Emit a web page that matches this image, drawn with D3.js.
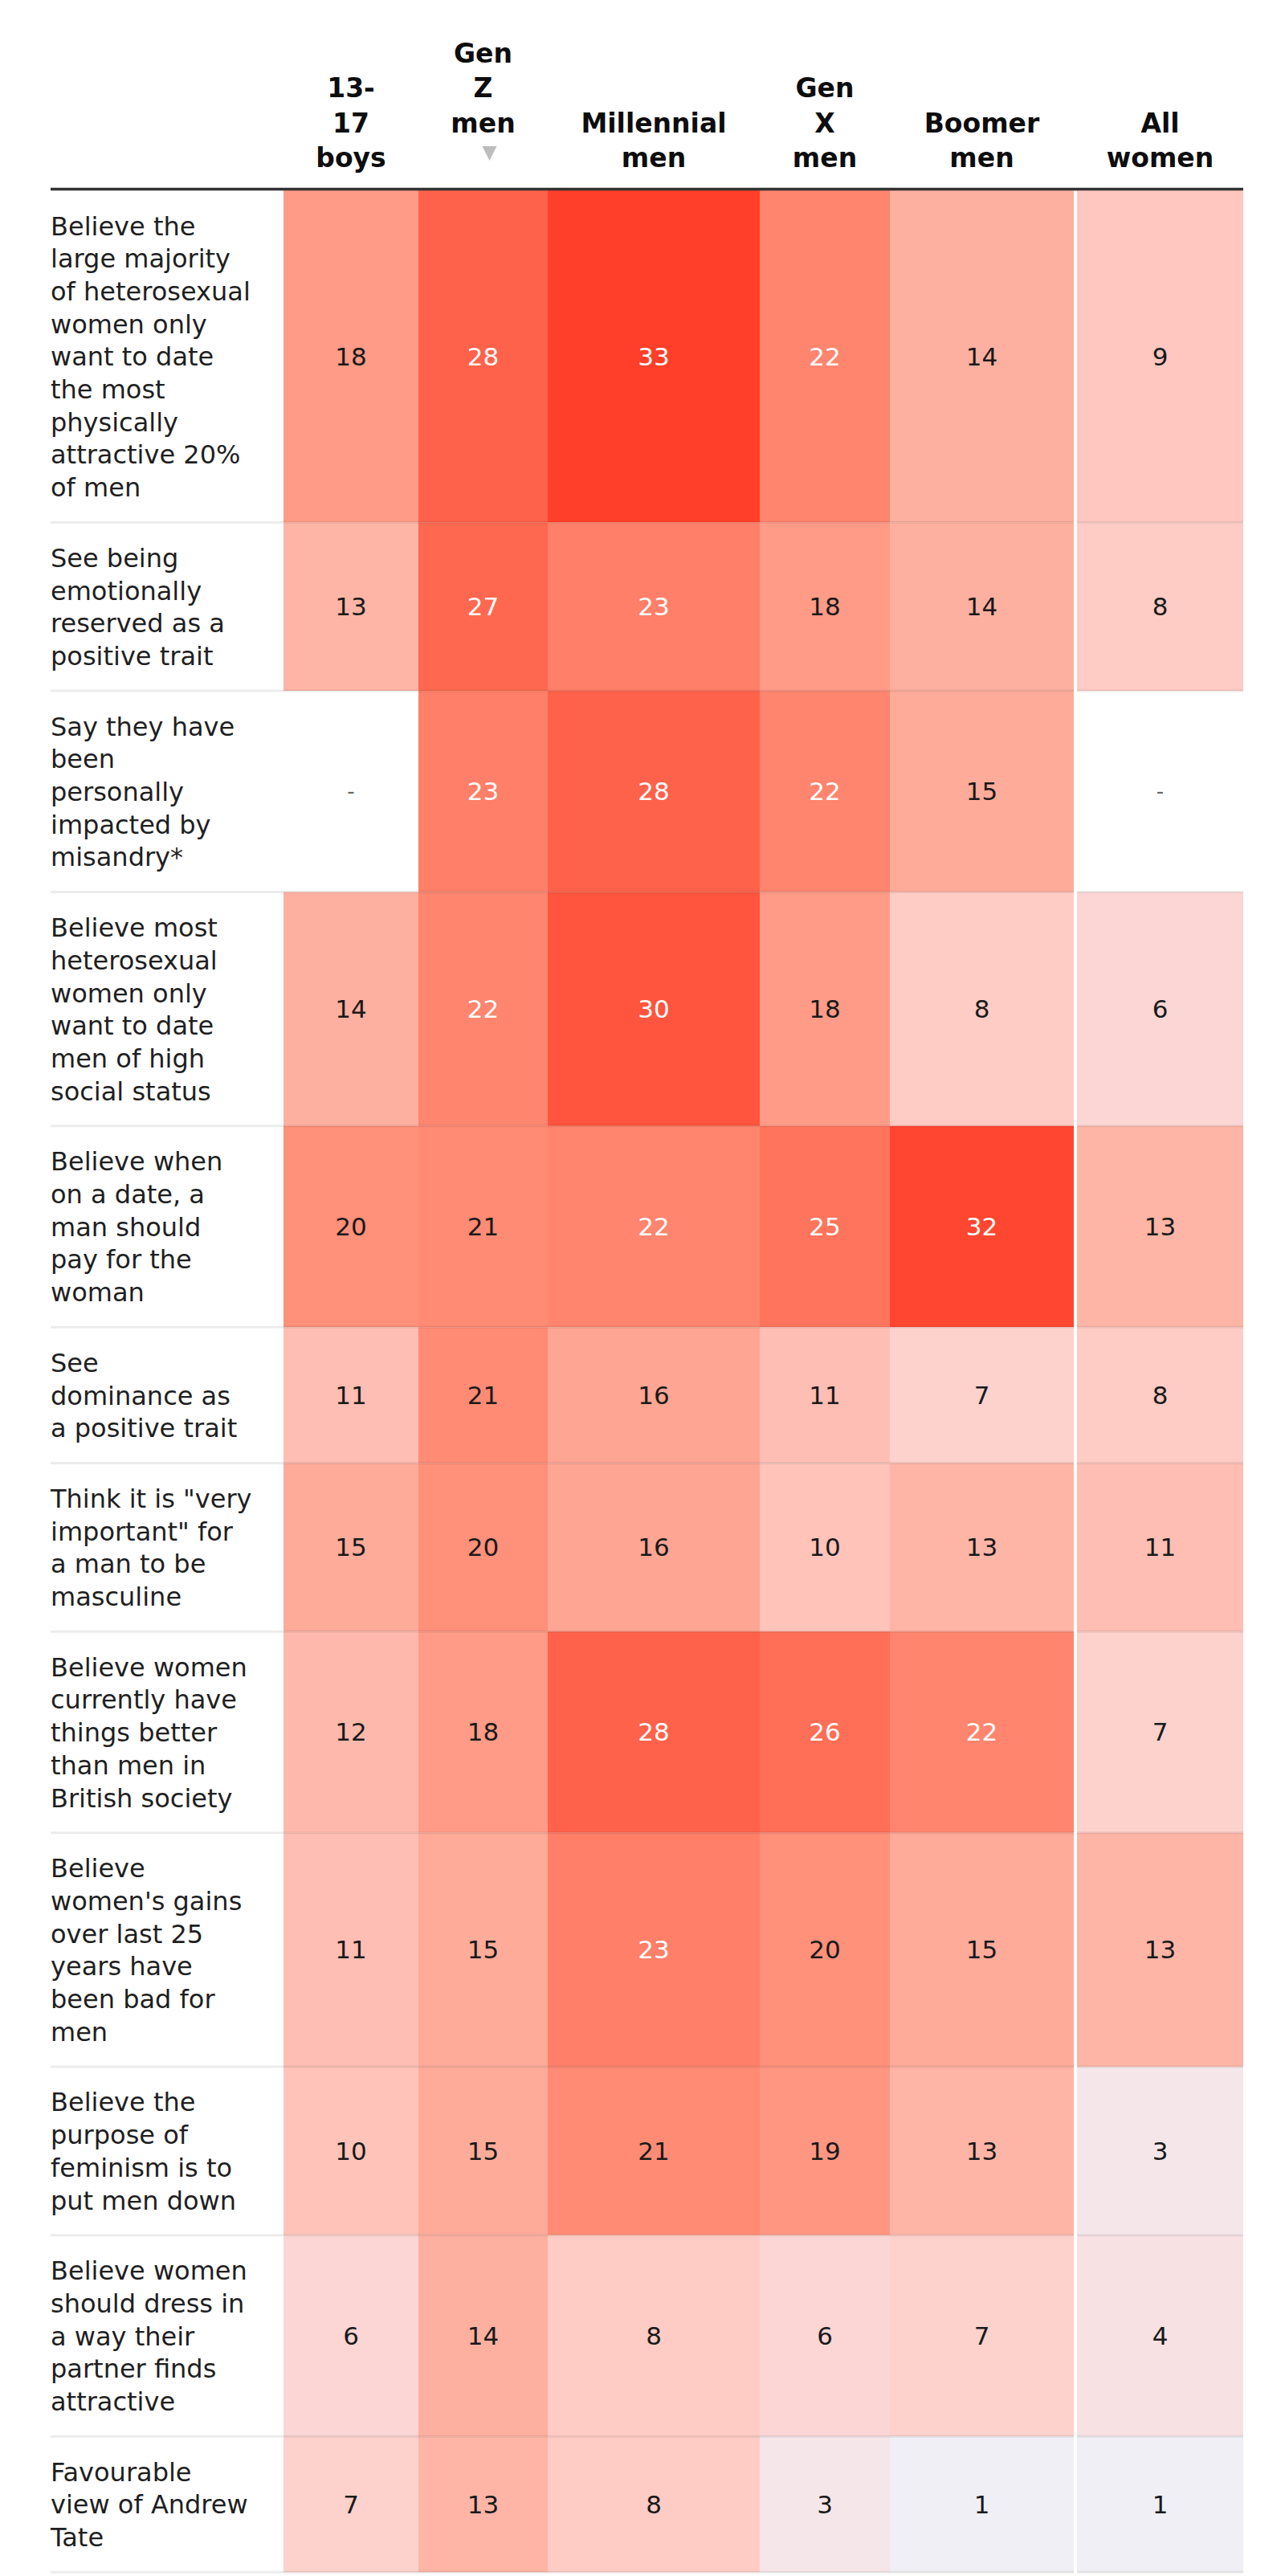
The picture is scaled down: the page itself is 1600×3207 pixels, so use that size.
<!DOCTYPE html>
<html>
<head>
<meta charset="utf-8">
<script src="https://cdn.jsdelivr.net/npm/d3@7"></script>
<style>
    body { margin: 0; background: #fff; }
    svg { display: block; }
</style>
</head>
<body>
<svg id="chart"></svg>
<script>
// column headers (one line per entry)
let columns = ["13-17 boys", "Gen Z men", "Millennial men", "Gen X men", "Boomer men", "All women"];
let headerLines = [["13-", "17", "boys"], ["Gen", "Z", "men"], ["Millennial", "men"], ["Gen", "X", "men"], ["Boomer", "men"], ["All", "women"]];

// statements, already broken into lines as in the table
let statements = [
    ["Believe the", "large majority", "of heterosexual", "women only", "want to date", "the most", "physically", "attractive 20%", "of men"],
    ["See being", "emotionally", "reserved as a", "positive trait"],
    ["Say they have", "been", "personally", "impacted by", "misandry*"],
    ["Believe most", "heterosexual", "women only", "want to date", "men of high", "social status"],
    ["Believe when", "on a date, a", "man should", "pay for the", "woman"],
    ["See", "dominance as", "a positive trait"],
    ["Think it is \"very", "important\" for", "a man to be", "masculine"],
    ["Believe women", "currently have", "things better", "than men in", "British society"],
    ["Believe", "women's gains", "over last 25", "years have", "been bad for", "men"],
    ["Believe the", "purpose of", "feminism is to", "put men down"],
    ["Believe women", "should dress in", "a way their", "partner finds", "attractive"],
    ["Favourable", "view of Andrew", "Tate"]
];

// % agreeing, one array per group (null = not asked)
let boys13to17 = [18, 13, null, 14, 20, 11, 15, 12, 11, 10, 6, 7];
let genZMen = [28, 27, 23, 22, 21, 21, 20, 18, 15, 15, 14, 13];
let millennialMen = [33, 23, 28, 30, 22, 16, 16, 28, 23, 21, 8, 8];
let genXMen = [22, 18, 22, 18, 25, 11, 10, 26, 20, 19, 6, 3];
let boomerMen = [14, 14, 15, 8, 32, 7, 13, 22, 15, 13, 7, 1];
let allWomen = [9, 8, null, 6, 13, 8, 11, 7, 13, 3, 4, 1];

let series = [boys13to17, genZMen, millennialMen, genXMen, boomerMen, allWomen];

// layout
const width = 1600, height = 3207;
const left = 63, right = 1548;
const tableTop = 237;
const colWidths = [168, 161, 264, 162, 229, 207];
const gapBefore = [0, 0, 0, 0, 0, 4];   // white gap before "All women"
const lineH = 40.7, rowPad = 47;
const font = "'DejaVu Sans', 'Liberation Sans', sans-serif";

let svg = d3.select("#chart").attr("width", width).attr("height", height);

// x positions of the columns
let xEdges = [];
let cx = 353;
colWidths.forEach((w, i) => {
    cx += gapBefore[i];
    xEdges.push(cx);
    cx += w;
});
let x = d3.scaleOrdinal().domain(columns).range(xEdges);
let colW = d3.scaleOrdinal().domain(columns).range(colWidths);

// y positions of the rows, from the number of label lines
let rowTops = [];
let ry = tableTop;
statements.forEach(s => {
    rowTops.push(ry);
    ry += s.length * lineH + rowPad;
});
let rowIds = statements.map((s, i) => i);
let y = d3.scaleOrdinal().domain(rowIds).range(rowTops);
let rowH = i => statements[i].length * lineH + rowPad;

// colour scale
let color = d3.scaleLinear()
    .domain([1, 3, 8, 14, 21, 28, 33])
    .range(["#f0eff5", "#f5e6ea", "#ffccc5", "#feb0a0", "#ff8b74", "#ff624a", "#ff3f2a"])
    .interpolate(d3.interpolateRgb);

// cells
let cells = [];
rowIds.forEach(r => {
    columns.forEach((c, j) => {
        cells.push({ row: r, col: c, value: series[j][r] });
    });
});

let cell = svg.append("g").selectAll("g")
    .data(cells)
    .enter()
    .append("g");

cell.append("rect")
    .attr("x", d => x(d.col))
    .attr("y", d => y(d.row))
    .attr("width", d => colW(d.col))
    .attr("height", d => rowH(d.row))
    .attr("fill", d => d.value == null ? "#fff" : color(d.value));

cell.append("text")
    .attr("x", d => x(d.col) + colW(d.col) / 2)
    .attr("y", d => y(d.row) + rowH(d.row) / 2)
    .attr("text-anchor", "middle")
    .attr("dominant-baseline", "central")
    .attr("font-family", font)
    .attr("font-size", d => d.value == null ? 26 : 31)
    .attr("fill", d => d.value == null ? "#666" : (d.value >= 22 ? "#fff" : "#1a1a1a"))
    .text(d => d.value == null ? "-" : d.value);

// row labels
let labels = svg.append("g").selectAll("text")
    .data(rowIds)
    .enter()
    .append("text")
    .attr("font-family", font)
    .attr("font-size", 32)
    .attr("fill", "#1f1f1f");

labels.selectAll("tspan")
    .data(r => statements[r].map((t, k) => ({ t: t, k: k, r: r })))
    .enter()
    .append("tspan")
    .attr("x", left)
    .attr("y", d => y(d.r) + rowPad / 2 + 32 + d.k * lineH)
    .text(d => d.t);

// row separators
svg.append("g").selectAll("line")
    .data(rowIds)
    .enter()
    .append("line")
    .attr("x1", left)
    .attr("x2", right)
    .attr("y1", r => y(r) + rowH(r))
    .attr("y2", r => y(r) + rowH(r))
    .attr("stroke", "rgba(0,0,0,0.075)")
    .attr("stroke-width", 3);

// white gap before the women column
svg.append("rect")
    .attr("x", x("All women") - 4)
    .attr("y", tableTop)
    .attr("width", 4)
    .attr("height", height - tableTop)
    .attr("fill", "#fff");

// header
const headBase = 208, headLineH = 43.5;
let head = svg.append("g").selectAll("text")
    .data(columns)
    .enter()
    .append("text")
    .attr("font-family", font)
    .attr("font-weight", "bold")
    .attr("font-size", 33)
    .attr("fill", "#0d0d0d")
    .attr("text-anchor", "middle");

head.selectAll("tspan")
    .data((c, i) => {
        let lines = headerLines[i];
        // Gen Z column carries the sort arrow as its last line
        let n = lines.length + (c === "Gen Z men" ? 1 : 0);
        return lines.map((t, k) => ({ t: t, k: k, n: n, c: c }));
    })
    .enter()
    .append("tspan")
    .attr("x", d => x(d.c) + colW(d.c) / 2)
    .attr("y", d => headBase - (d.n - 1 - d.k) * headLineH)
    .text(d => d.t);

// sort arrow under "Gen Z men"
let ax = x("Gen Z men") + colW("Gen Z men") / 2 + 8;
svg.append("path")
    .attr("d", `M${ax - 9},182 L${ax + 9},182 L${ax},200 Z`)
    .attr("fill", "#bdbdbd");

// header rule
svg.append("line")
    .attr("x1", left)
    .attr("x2", right)
    .attr("y1", 235.5)
    .attr("y2", 235.5)
    .attr("stroke", "#333")
    .attr("stroke-width", 3.5);
</script>
</body>
</html>
